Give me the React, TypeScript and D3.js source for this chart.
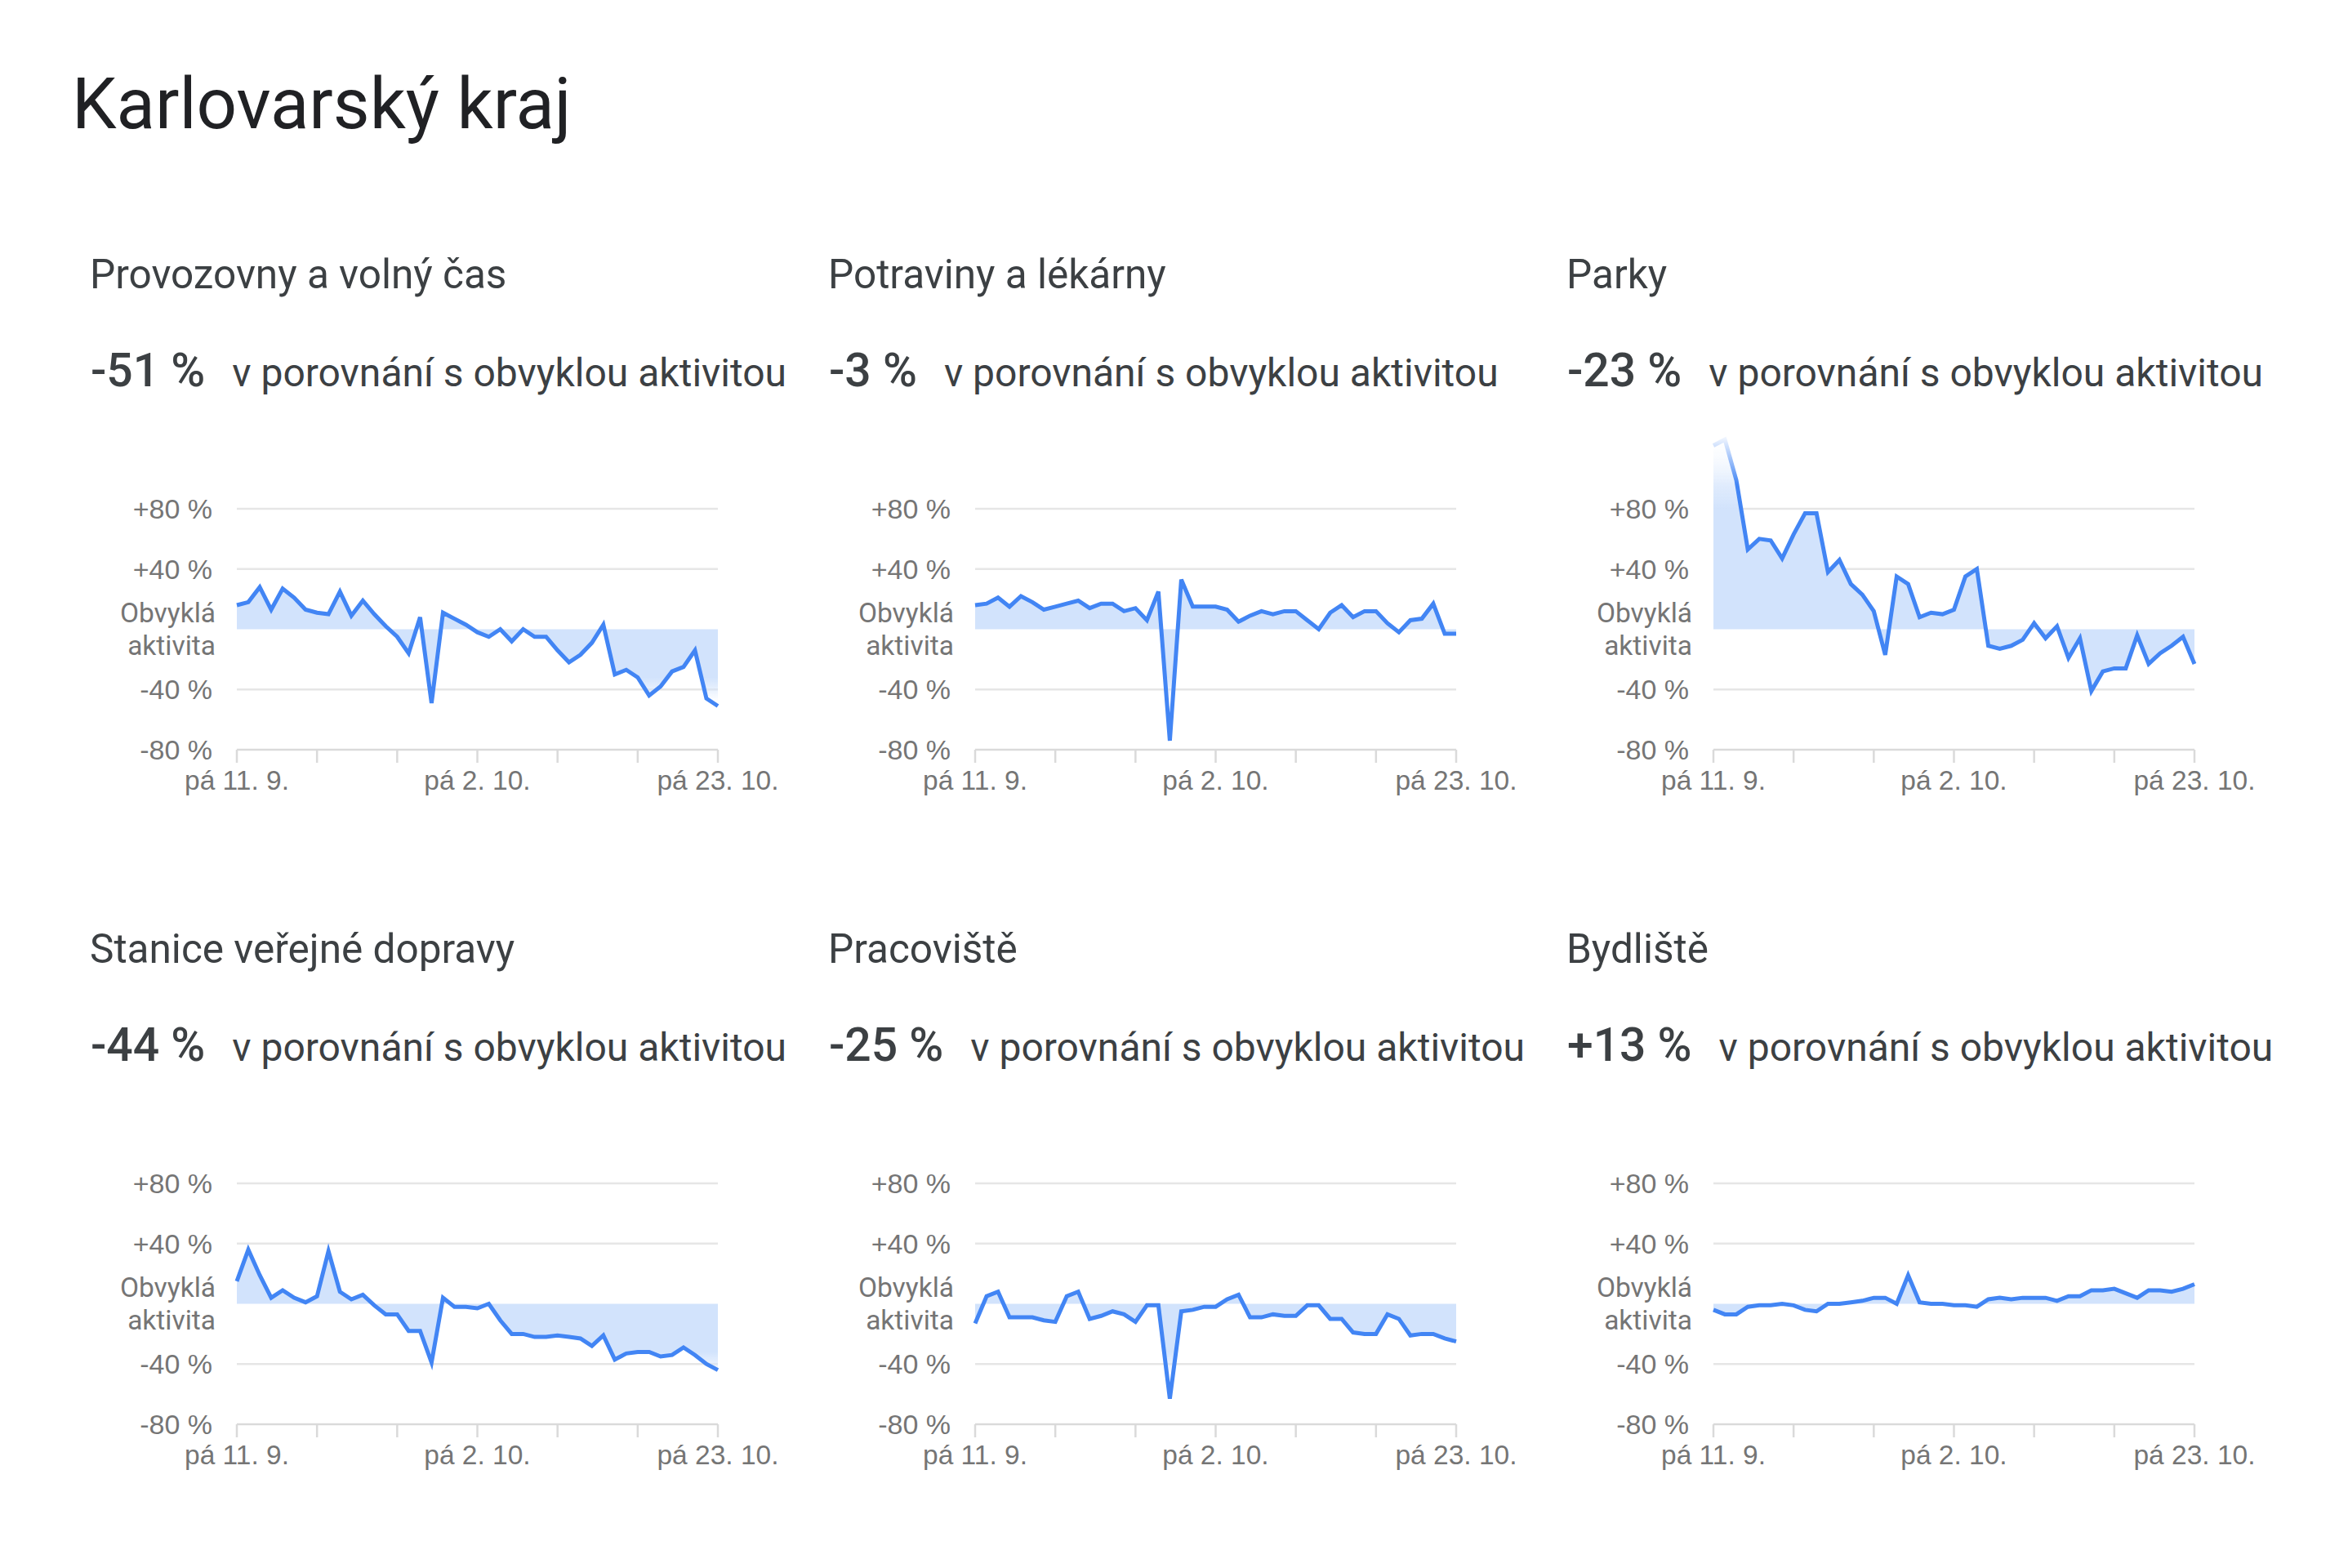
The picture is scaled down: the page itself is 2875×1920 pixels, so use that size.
import * as d3 from "d3";

// days 11. 9. – 23. 10. 2020
const dates = d3.timeDay.range(new Date(2020, 8, 11), new Date(2020, 9, 24));

const categories = [
  "Provozovny a volný čas",
  "Potraviny a lékárny",
  "Parky",
  "Stanice veřejné dopravy",
  "Pracoviště",
  "Bydliště",
];
const changes = ["-51 %", "-3 %", "-23 %", "-44 %", "-25 %", "+13 %"];

const provozovny = [16, 18, 28, 13, 27, 21, 13, 11, 10, 25, 9, 19, 10, 2, -5, -16, 8, -49, 11, 7, 3, -2, -5, 0, -8, 0, -5, -5, -14, -22, -17, -9, 3, -30, -27, -32, -44, -38, -28, -25, -14, -46, -51];
const potraviny = [16, 17, 21, 15, 22, 18, 13, 15, 17, 19, 14, 17, 17, 12, 14, 6, 25, -74, 33, 15, 15, 15, 13, 5, 9, 12, 10, 12, 12, 6, 0, 11, 16, 8, 12, 12, 4, -2, 6, 7, 17, -3, -3];
const parky = [122, 126, 99, 53, 60, 59, 47, 63, 77, 77, 38, 46, 30, 23, 12, -17, 35, 30, 8, 11, 10, 13, 35, 40, -11, -13, -11, -7, 4, -6, 2, -19, -6, -41, -28, -26, -26, -4, -23, -16, -11, -5, -23];
const stanice = [15, 36, 19, 4, 9, 4, 1, 5, 35, 8, 3, 6, -1, -7, -7, -18, -18, -39, 4, -2, -2, -3, 0, -11, -20, -20, -22, -22, -21, -22, -23, -28, -21, -37, -33, -32, -32, -35, -34, -29, -34, -40, -44];
const pracoviste = [-13, 5, 8, -9, -9, -9, -11, -12, 5, 8, -10, -8, -5, -7, -12, -1, -1, -63, -5, -4, -2, -2, 3, 6, -9, -9, -7, -8, -8, -1, -1, -10, -10, -19, -20, -20, -7, -10, -21, -20, -20, -23, -25];
const bydliste = [-4, -7, -7, -2, -1, -1, 0, -1, -4, -5, 0, 0, 1, 2, 4, 4, 0, 19, 1, 0, 0, -1, -1, -2, 3, 4, 3, 4, 4, 4, 2, 5, 5, 9, 9, 10, 7, 4, 9, 9, 8, 10, 13];

const series = [provozovny, potraviny, parky, stanice, pracoviste, bydliste];

const yTicks = [80, 40, -40];
const yTickLabels = ["+80 %", "+40 %", "-40 %"];
const xTickLabels = ["pá 11. 9.", "pá 2. 10.", "pá 23. 10."];

const colX = [290, 1194, 2098];
const rowY = [623, 1449];
const plotW = 589;
const plotH = 295;

const LINE = "#4285f4";
const FILL = "#d2e3fc";
const AXIS_FONT = "'Liberation Sans', Arial, sans-serif";
const TEXT_FONT = "Roboto, 'Noto Sans', sans-serif";

function Panel({ idx }: { idx: number }) {
  const col = idx % 3;
  const row = Math.floor(idx / 3);
  const x0 = colX[col];
  const y0 = rowY[row];
  const values = series[idx];

  const x = d3
    .scaleTime()
    .domain([dates[0], dates[dates.length - 1]])
    .range([x0, x0 + plotW]);
  const y = d3.scaleLinear().domain([-80, 80]).range([y0 + plotH, y0]);

  const pts = values.map((v, i) => ({ d: dates[i], v }));
  const line = d3
    .line<{ d: Date; v: number }>()
    .x((p) => x(p.d))
    .y((p) => y(p.v));
  const area = d3
    .area<{ d: Date; v: number }>()
    .x((p) => x(p.d))
    .y0(y(0))
    .y1((p) => y(p.v));

  const weekTicks = dates.filter((_, i) => i % 7 === 0);
  const labelTicks = weekTicks.filter((_, i) => i % 3 === 0);

  const gTop = y(130);
  const gBot = y(-80);
  const off = (v: number) => (y(v) - gTop) / (gBot - gTop);

  return (
    <g>
      <defs>
        <linearGradient id={`fill-${idx}`} gradientUnits="userSpaceOnUse" x1={0} x2={0} y1={gTop} y2={gBot}>
          <stop offset={0} stopColor={FILL} stopOpacity={0} />
          <stop offset={off(80)} stopColor={FILL} stopOpacity={1} />
          <stop offset={off(-32)} stopColor={FILL} stopOpacity={1} />
          <stop offset={off(-48)} stopColor={FILL} stopOpacity={0} />
          <stop offset={1} stopColor={FILL} stopOpacity={0} />
        </linearGradient>
        <linearGradient id={`fade-${idx}`} gradientUnits="userSpaceOnUse" x1={0} x2={0} y1={gTop} y2={gBot}>
          <stop offset={0} stopColor="#fff" stopOpacity={0} />
          <stop offset={off(96)} stopColor="#fff" stopOpacity={1} />
          <stop offset={1} stopColor="#fff" stopOpacity={1} />
        </linearGradient>
        <mask id={`mask-${idx}`} maskUnits="userSpaceOnUse" x={x0 - 20} y={gTop - 20} width={plotW + 40} height={gBot - gTop + 40}>
          <rect x={x0 - 20} y={gTop - 20} width={plotW + 40} height={gBot - gTop + 40} fill={`url(#fade-${idx})`} />
        </mask>
      </defs>

      {/* panel heading */}
      <text x={x0 - 180} y={y0 - 270} fontFamily={TEXT_FONT} fontSize={49.5} fill="#3c4043">
        {categories[idx]}
      </text>
      <text x={x0 - 179} y={y0 - 150} fontFamily={TEXT_FONT} fontSize={48} fill="#3c4043">
        <tspan fontWeight={500} fontSize={57}>{changes[idx]}</tspan>
        <tspan dx={33}>v porovnání s obvyklou aktivitou</tspan>
      </text>

      {/* grid */}
      {yTicks.map((t, i) => (
        <g key={t}>
          <line x1={x0} x2={x0 + plotW} y1={y(t)} y2={y(t)} stroke="#e6e6e6" strokeWidth={2.5} />
          <text x={x0 - 30} y={y(t)} dy="0.35em" textAnchor="end" fontFamily={AXIS_FONT} fontSize={34} fill="#757575">
            {yTickLabels[i]}
          </text>
        </g>
      ))}
      <text x={x0 - 26} y={y(0) - 9} textAnchor="end" fontFamily={TEXT_FONT} fontSize={33.5} fill="#757575">
        Obvyklá
      </text>
      <text x={x0 - 26} y={y(0) + 31} textAnchor="end" fontFamily={TEXT_FONT} fontSize={33.5} fill="#757575">
        aktivita
      </text>

      {/* x axis */}
      <line x1={x0} x2={x0 + plotW} y1={y(-80)} y2={y(-80)} stroke="#dadada" strokeWidth={2.5} />
      <text x={x0 - 30} y={y(-80)} dy="0.35em" textAnchor="end" fontFamily={AXIS_FONT} fontSize={34} fill="#757575">
        -80 %
      </text>
      {weekTicks.map((d) => (
        <line key={+d} x1={x(d)} x2={x(d)} y1={y(-80)} y2={y(-80) + 16} stroke="#dadada" strokeWidth={2.5} />
      ))}
      {labelTicks.map((d, i) => (
        <text key={+d} x={x(d)} y={y0 + 344} textAnchor="middle" fontFamily={AXIS_FONT} fontSize={33.5} fill="#757575">
          {xTickLabels[i]}
        </text>
      ))}

      {/* data */}
      <g mask={`url(#mask-${idx})`}>
        <path d={area(pts) ?? ""} fill={`url(#fill-${idx})`} />
        <path d={line(pts) ?? ""} fill="none" stroke={LINE} strokeWidth={5} strokeLinejoin="miter" />
      </g>
    </g>
  );
}

export default function App() {
  return (
    <svg
      width={2875}
      height={1920}
      style={{ position: "absolute", left: 0, top: 0, background: "#fff" }}
    >
      <rect width={2875} height={1920} fill="#fff" />
      <text x={88} y={157} fontFamily={TEXT_FONT} fontSize={87} fill="#202124">
        Karlovarský kraj
      </text>
      {categories.map((_, i) => (
        <Panel key={i} idx={i} />
      ))}
    </svg>
  );
}
